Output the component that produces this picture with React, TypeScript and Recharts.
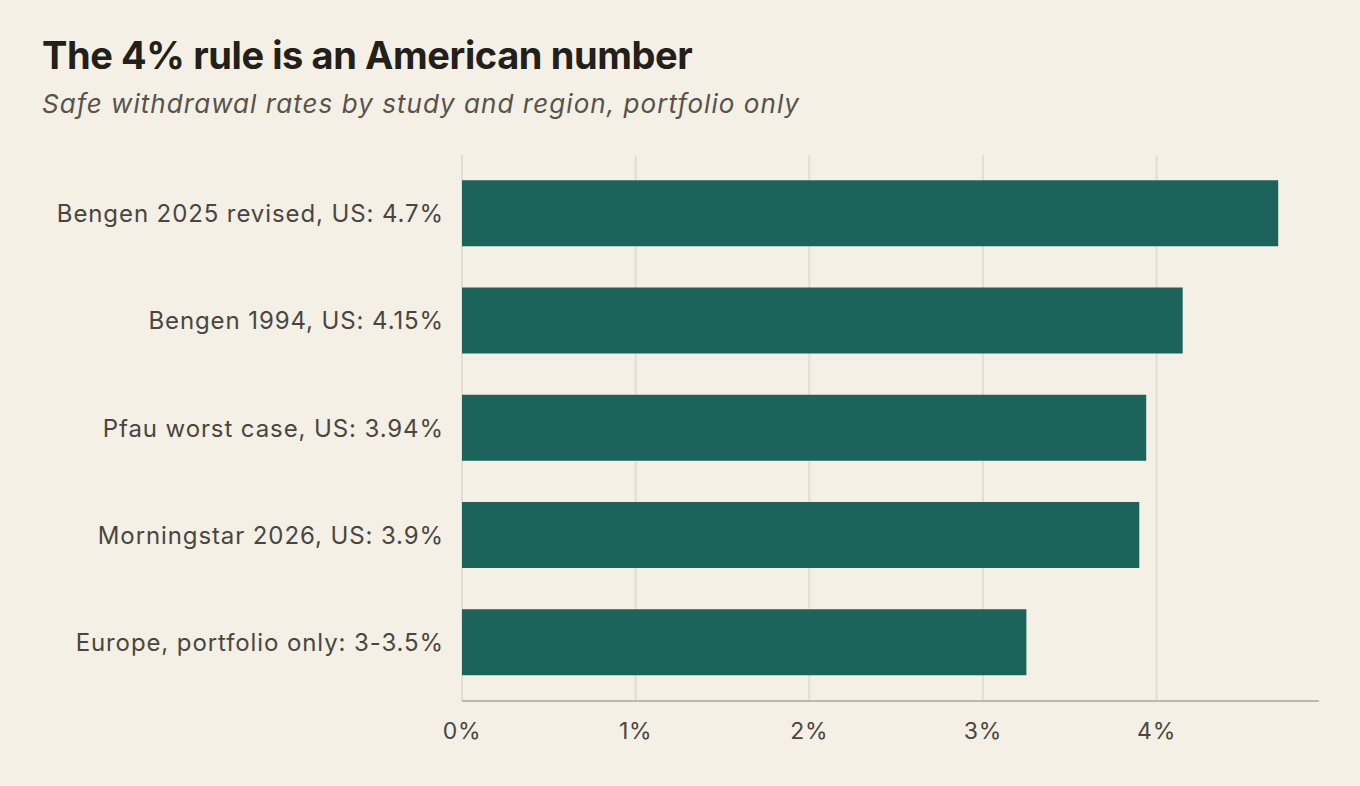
import { Bar, BarChart, CartesianGrid, XAxis, YAxis } from 'recharts';

const studies: string[] = [
  'Bengen 2025 revised, US: 4.7%',
  'Bengen 1994, US: 4.15%',
  'Pfau worst case, US: 3.94%',
  'Morningstar 2026, US: 3.9%',
  'Europe, portfolio only: 3-3.5%',
];

const rates: number[] = [4.7, 4.15, 3.94, 3.9, 3.25];

const xTicks: number[] = [0, 1, 2, 3, 4];

const X_MAX = 4.935;

const data = studies.map((name, i) => ({ name, rate: rates[i] }));

const FONT = 'Inter, "Noto Sans", sans-serif';

// only draw grid lines at the labelled ticks (no line at the domain end)
const gridX = (props: any) => {
  const scale = props?.xAxis?.scale;
  return xTicks.map((t) => {
    if (typeof scale === 'function') return scale(t);
    if (scale && typeof scale.map === 'function') return scale.map(t);
    const off = props.offset;
    return off.left + (t / X_MAX) * off.width;
  });
};

function App() {
  return (
    <div
      style={{
        position: 'fixed',
        left: 0,
        top: 0,
        width: 1360,
        height: 786,
        background: '#f4f0e5',
        fontFamily: FONT,
      }}
    >
      <div
        style={{
          position: 'absolute',
          left: 42,
          top: 31,
          fontSize: 38,
          fontWeight: 700,
          color: '#222019',
          letterSpacing: -0.4,
          lineHeight: '48px',
        }}
      >
        The 4% rule is an American number
      </div>
      <div
        style={{
          position: 'absolute',
          left: 42,
          top: 87,
          fontSize: 26,
          fontStyle: 'italic',
          color: '#57534a',
          letterSpacing: 1.05,
          lineHeight: '34px',
        }}
      >
        Safe withdrawal rates by study and region, portfolio only
      </div>
      <div style={{ position: 'absolute', left: 0, top: 0 }}>
        <BarChart
          width={1360}
          height={786}
          data={data}
          layout='vertical'
          margin={{ top: 155, right: 41, bottom: 55, left: 0 }}
          barCategoryGap='19%'
        >
          <CartesianGrid
            horizontal={false}
            stroke='#e3ddd1'
            strokeWidth={2}
            verticalCoordinatesGenerator={gridX}
          />
          <XAxis
            type='number'
            domain={[0, X_MAX]}
            ticks={xTicks}
            tickFormatter={(v: number) => `${v}%`}
            tickLine={false}
            tickSize={0}
            tickMargin={22}
            axisLine={{ stroke: '#bfb9ad', strokeWidth: 2 }}
            tick={{ fill: '#4a463f', fontSize: 23, letterSpacing: 0.8, fontFamily: FONT }}
            height={30}
          />
          <YAxis
            type='category'
            dataKey='name'
            width={462}
            padding={{ top: 5, bottom: 5 }}
            tickLine={false}
            tickSize={0}
            tickMargin={18}
            axisLine={false}
            tick={{ fill: '#4a463f', fontSize: 24, letterSpacing: 0.9, fontFamily: FONT }}
          />
          <Bar dataKey='rate' fill='#1b635b' isAnimationActive={false} />
        </BarChart>
      </div>
    </div>
  );
}

export default App;
